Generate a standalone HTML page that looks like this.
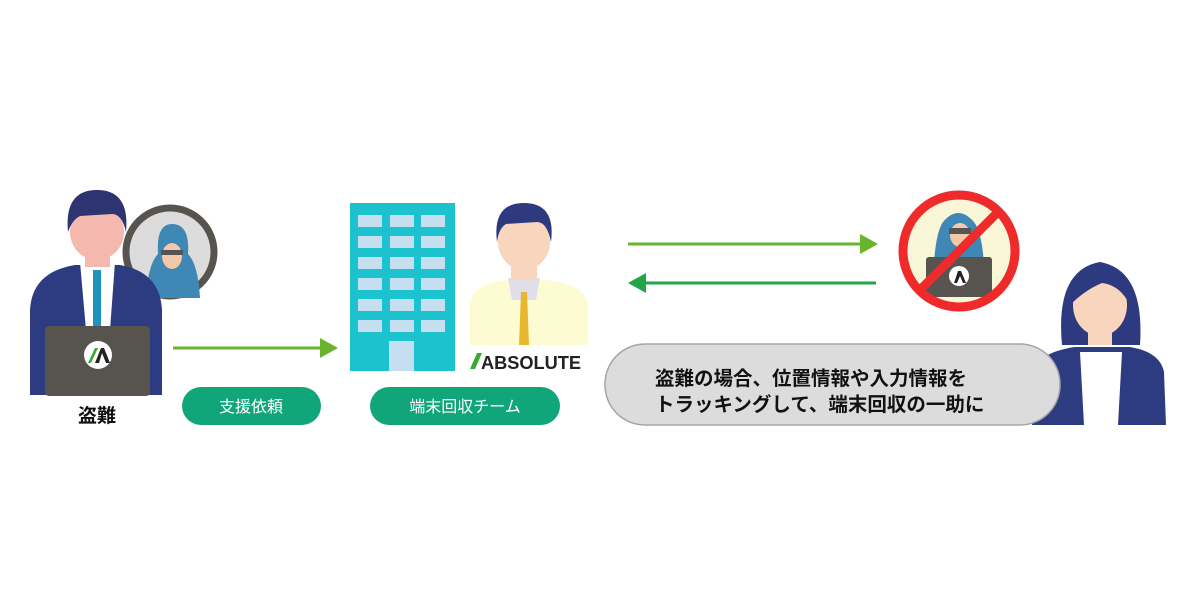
<!DOCTYPE html>
<html><head><meta charset="utf-8"><style>
html,body{margin:0;padding:0;background:#fff;}
svg{display:block}
text{font-family:"Liberation Sans","Noto Sans CJK JP",sans-serif;}
</style></head><body>
<svg width="1200" height="615" viewBox="0 0 1200 615" xmlns="http://www.w3.org/2000/svg">
<rect width="1200" height="615" fill="#fff"/>
<!-- magnifier circle -->
<circle cx="170" cy="252" r="44" fill="#dcdcdc" stroke="#57534f" stroke-width="7"/>
<path d="M146 298 Q148 264 158 254 Q156 224 172 224 Q190 224 188 254 Q198 264 200 298 Z" fill="#3f87b5"/>
<ellipse cx="172" cy="256" rx="10" ry="13" fill="#f2c8a8"/>
<rect x="161" y="250" width="22" height="5" fill="#555"/>
<!-- person 1 -->
<path d="M30 395 L30 310 Q32 272 75 265 L120 265 Q160 272 162 310 L162 395 Z" fill="#2d3c80"/>
<path d="M80 262 L115 262 L110 330 L86 330 Z" fill="#fff"/>
<rect x="93" y="270" width="8" height="60" fill="#1f93be"/>
<rect x="85" y="245" width="25" height="22" fill="#f4b8ae"/>
<ellipse cx="97" cy="232" rx="27" ry="28" fill="#f4b8ae"/>
<path d="M68 232 Q64 190 97 190 Q130 190 126 232 Q122 214 112 214 L80 216 Q72 220 68 232 Z" fill="#2d3470"/>
<rect x="45" y="326" width="105" height="70" rx="4" fill="#57534f"/>
<circle cx="98" cy="355" r="14" fill="#fff"/>
<path d="M88 363 L95 348 L98 348 L91 363 Z" fill="#3aa935"/>
<path d="M95 363 L101 348 L104 348 L110 363 L106 363 L102 353 L99 363 Z" fill="#222"/>
<text x="97" y="422" font-size="19" font-weight="bold" text-anchor="middle" fill="#111">盗難</text>
<!-- arrow1 -->
<line x1="173" y1="348" x2="324" y2="348" stroke="#6ab42d" stroke-width="3"/>
<path d="M320 338 L338 348 L320 358 Z" fill="#6ab42d"/>
<rect x="182" y="387" width="139" height="38" rx="19" fill="#11a57a"/>
<text x="251" y="412" font-size="16" fill="#fff" text-anchor="middle">支援依頼</text>
<!-- building -->
<rect x="350" y="203" width="105" height="168" fill="#1dc2cf"/>
<g fill="#c6dff0">
<rect x="358" y="215" width="24" height="12"/><rect x="390" y="215" width="24" height="12"/><rect x="421" y="215" width="24" height="12"/>
<rect x="358" y="236" width="24" height="12"/><rect x="390" y="236" width="24" height="12"/><rect x="421" y="236" width="24" height="12"/>
<rect x="358" y="257" width="24" height="12"/><rect x="390" y="257" width="24" height="12"/><rect x="421" y="257" width="24" height="12"/>
<rect x="358" y="278" width="24" height="12"/><rect x="390" y="278" width="24" height="12"/><rect x="421" y="278" width="24" height="12"/>
<rect x="358" y="299" width="24" height="12"/><rect x="390" y="299" width="24" height="12"/><rect x="421" y="299" width="24" height="12"/>
<rect x="358" y="320" width="24" height="12"/><rect x="390" y="320" width="24" height="12"/><rect x="421" y="320" width="24" height="12"/>
<rect x="389" y="341" width="25" height="30"/>
</g>
<!-- person 2 -->
<path d="M470 345 L470 305 Q472 284 505 280 L545 280 Q586 284 588 305 L588 345 Z" fill="#fdfbd2"/>
<path d="M508 278 L540 278 L536 300 L512 300 Z" fill="#dedfea"/>
<path d="M521 292 L527 292 L529 345 L519 345 Z" fill="#e8b72f"/>
<rect x="511" y="258" width="26" height="22" fill="#f8d5bd"/>
<ellipse cx="524" cy="242" rx="26" ry="28" fill="#f8d5bd"/>
<path d="M497 242 Q492 203 524 203 Q556 203 551 242 Q547 222 537 222 L506 224 Q499 228 497 242 Z" fill="#2d3a80"/>
<path d="M470 369 L477 353 L482 353 L475 369 Z" fill="#3aa935"/>
<text x="481" y="369" font-size="18" font-weight="bold" fill="#222" textLength="100" lengthAdjust="spacingAndGlyphs">ABSOLUTE</text>
<rect x="370" y="387" width="190" height="38" rx="19" fill="#11a57a"/>
<text x="465" y="412" font-size="16" fill="#fff" text-anchor="middle">端末回収チーム</text>
<!-- arrows right -->
<line x1="628" y1="244" x2="864" y2="244" stroke="#6ab42d" stroke-width="3"/>
<path d="M860 234 L878 244 L860 254 Z" fill="#6ab42d"/>
<line x1="642" y1="283" x2="876" y2="283" stroke="#22a447" stroke-width="3"/>
<path d="M646 273 L628 283 L646 293 Z" fill="#22a447"/>
<!-- no sign -->
<circle cx="959" cy="251" r="56" fill="#f9f5d7"/>
<path d="M933 285 Q934 235 943 222 Q958 204 974 222 Q984 235 985 285 Z" fill="#3f87b5"/>
<ellipse cx="960" cy="235" rx="10" ry="12" fill="#f2c8a8"/>
<rect x="949" y="228" width="22" height="6" fill="#555"/>
<rect x="926" y="257" width="66" height="40" rx="3" fill="#57534f"/>
<circle cx="959" cy="276" r="10" fill="#fff"/>
<path d="M954 283 L958 271 L961 271 L966 283 L963 283 L960 276 L957 283 Z" fill="#222"/>
<circle cx="959" cy="251" r="56" fill="none" stroke="#ee2a2a" stroke-width="9"/>
<line x1="998" y1="212" x2="920" y2="290" stroke="#ee2a2a" stroke-width="9"/>
<!-- woman -->
<path d="M1032 425 L1035 370 Q1040 352 1075 347 L1130 347 Q1160 352 1164 372 L1166 425 Z" fill="#2d3c80"/>
<path d="M1080 352 L1122 352 L1118 425 L1084 425 Z" fill="#fff"/>
<path d="M1062 345 Q1055 270 1100 262 Q1145 270 1140 345 Z" fill="#2d3a80"/>
<rect x="1088" y="320" width="24" height="25" fill="#f8d5bd"/>
<ellipse cx="1100" cy="305" rx="27" ry="31" fill="#f8d5bd"/>
<path d="M1070 305 Q1068 268 1100 268 Q1132 268 1130 305 Q1120 285 1102 283 Q1085 290 1070 305 Z" fill="#2d3a80"/>
<!-- bubble -->
<rect x="605" y="344" width="455" height="81" rx="40" fill="#dcdcdc" stroke="#a5a5a5" stroke-width="1.5"/>
<text x="655" y="385" font-size="19.5" font-weight="bold" fill="#111">盗難の場合、位置情報や入力情報を</text>
<text x="655" y="411" font-size="19.5" font-weight="bold" fill="#111">トラッキングして、端末回収の一助に</text>
</svg>
</body></html>
